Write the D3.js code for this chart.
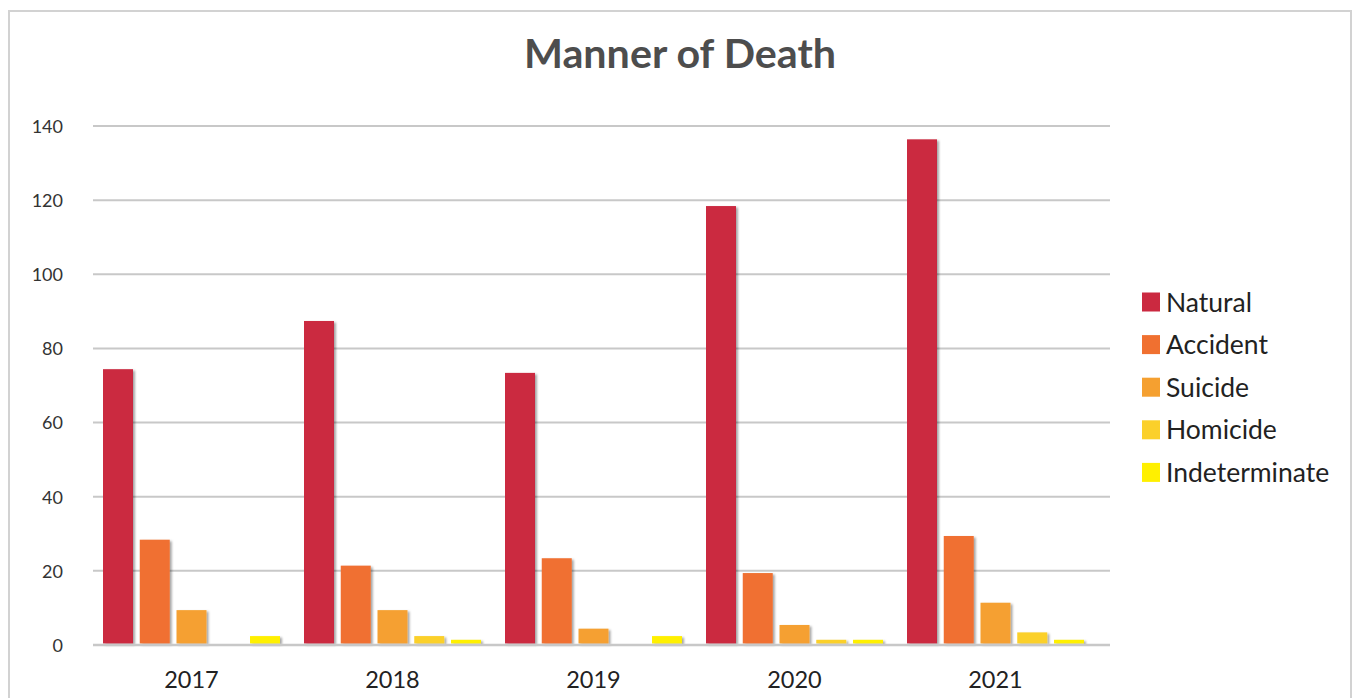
<!DOCTYPE html>
<html>
<head>
<meta charset="utf-8">
<script src="https://cdn.jsdelivr.net/npm/d3@7"></script>
<style>
  html, body { margin: 0; padding: 0; background: #fff; }
  svg { display: block; }
</style>
</head>
<body>
<svg id="chart" width="1353" height="698"></svg>
<script>
const years = ["2017", "2018", "2019", "2020", "2021"];
const seriesNames = ["Natural", "Accident", "Suicide", "Homicide", "Indeterminate"];
const seriesColors = ["#cb2940", "#f07030", "#f5a030", "#fbd02a", "#fff000"];
const natural = [74, 87, 73, 118, 136];
const accident = [28, 21, 23, 19, 29];
const suicide = [9, 9, 4, 5, 11];
const homicide = [0, 2, 0, 1, 3];
const indeterminate = [2, 1, 2, 1, 1];
const yTicks = [0, 20, 40, 60, 80, 100, 120, 140];
const titleText = "Manner of Death";

const seriesValues = [natural, accident, suicide, homicide, indeterminate];
const rows = years.map((yr, i) => ({
  year: yr,
  values: seriesNames.map((s, k) => ({ key: s, value: seriesValues[k][i], color: seriesColors[k] }))
}));

const svg = d3.select("#chart");

const defs = svg.append("defs");
const f = defs.append("filter").attr("id", "shadow").attr("x", "-20%").attr("y", "-20%").attr("width", "160%").attr("height", "160%");
f.append("feDropShadow").attr("dx", 2).attr("dy", 1.5).attr("stdDeviation", 1.2).attr("flood-color", "#000").attr("flood-opacity", 0.35);

// frame
svg.append("rect").attr("x", 9).attr("y", 11).attr("width", 1342).attr("height", 700)
  .attr("fill", "#fff").attr("stroke", "#d2d2d2").attr("stroke-width", 2);

// title
svg.append("text").attr("x", 680).attr("y", 68).attr("text-anchor", "middle")
  .attr("font-family", "Lato, 'Open Sans', sans-serif").attr("font-weight", 700)
  .attr("font-size", 40).attr("fill", "#4d4d4d")
  .attr("textLength", 312).attr("lengthAdjust", "spacingAndGlyphs")
  .text(titleText);

const y = d3.scaleLinear().domain([0, 140]).range([645, 126]);
const yBar = d3.scaleLinear().domain([0, 140]).range([643.5, 124.5]);
const x0 = d3.scaleBand().domain(years).range([91, 1096]).paddingInner(0).paddingOuter(0);
const x1 = d3.scaleBand().domain(seriesNames).range([12, 189]).paddingInner(0.184).paddingOuter(0);

// gridlines
const grid = svg.append("g");
grid.selectAll("line").data(yTicks.filter(t => t > 0)).join("line")
  .attr("x1", 93).attr("x2", 1110)
  .attr("y1", d => y(d)).attr("y2", d => y(d))
  .attr("stroke", "#c8c8c8").attr("stroke-width", 2);

// y axis labels
const yAxis = d3.axisLeft(y).tickValues(yTicks).tickSize(0).tickPadding(0);
const yg = svg.append("g").attr("transform", "translate(63,0)").call(yAxis);
yg.select(".domain").remove();
yg.selectAll("text").attr("font-family", "Lato, sans-serif").attr("font-size", 18).attr("fill", "#333")
  .attr("dy", "0.35em");

// bars
const groups = svg.append("g").selectAll("g").data(rows).join("g")
  .attr("transform", d => `translate(${x0(d.year)},0)`);
groups.selectAll("rect").data(d => d.values.filter(v => v.value > 0)).join("rect")
  .attr("x", d => x1(d.key)).attr("width", x1.bandwidth())
  .attr("y", d => yBar(d.value)).attr("height", d => yBar(0) - yBar(d.value))
  .attr("fill", d => d.color).attr("filter", "url(#shadow)");

// baseline axis
svg.append("line").attr("x1", 93).attr("x2", 1110).attr("y1", 645).attr("y2", 645)
  .attr("stroke", "#c8c8c8").attr("stroke-width", 2.5);

// x axis labels
const xAxis = d3.axisBottom(x0).tickSize(0).tickPadding(0);
const xg = svg.append("g").attr("transform", "translate(0,688)").call(xAxis);
xg.select(".domain").remove();
xg.selectAll("text").attr("font-family", "Lato, sans-serif").attr("font-size", 23.5).attr("fill", "#222")
  .attr("dy", 0);

// legend
const legend = svg.append("g");
const lg = legend.selectAll("g").data(seriesNames).join("g")
  .attr("transform", (d, i) => `translate(1142, ${302 + i * 42.6})`);
lg.append("rect").attr("x", 0).attr("y", -9.5).attr("width", 18).attr("height", 19)
  .attr("fill", (d, i) => seriesColors[i]);
lg.append("text").attr("x", 24).attr("y", 0).attr("dy", "0.36em")
  .attr("font-family", "Lato, sans-serif").attr("font-size", 26.5).attr("fill", "#222")
  .text(d => d);
</script>
</body>
</html>
